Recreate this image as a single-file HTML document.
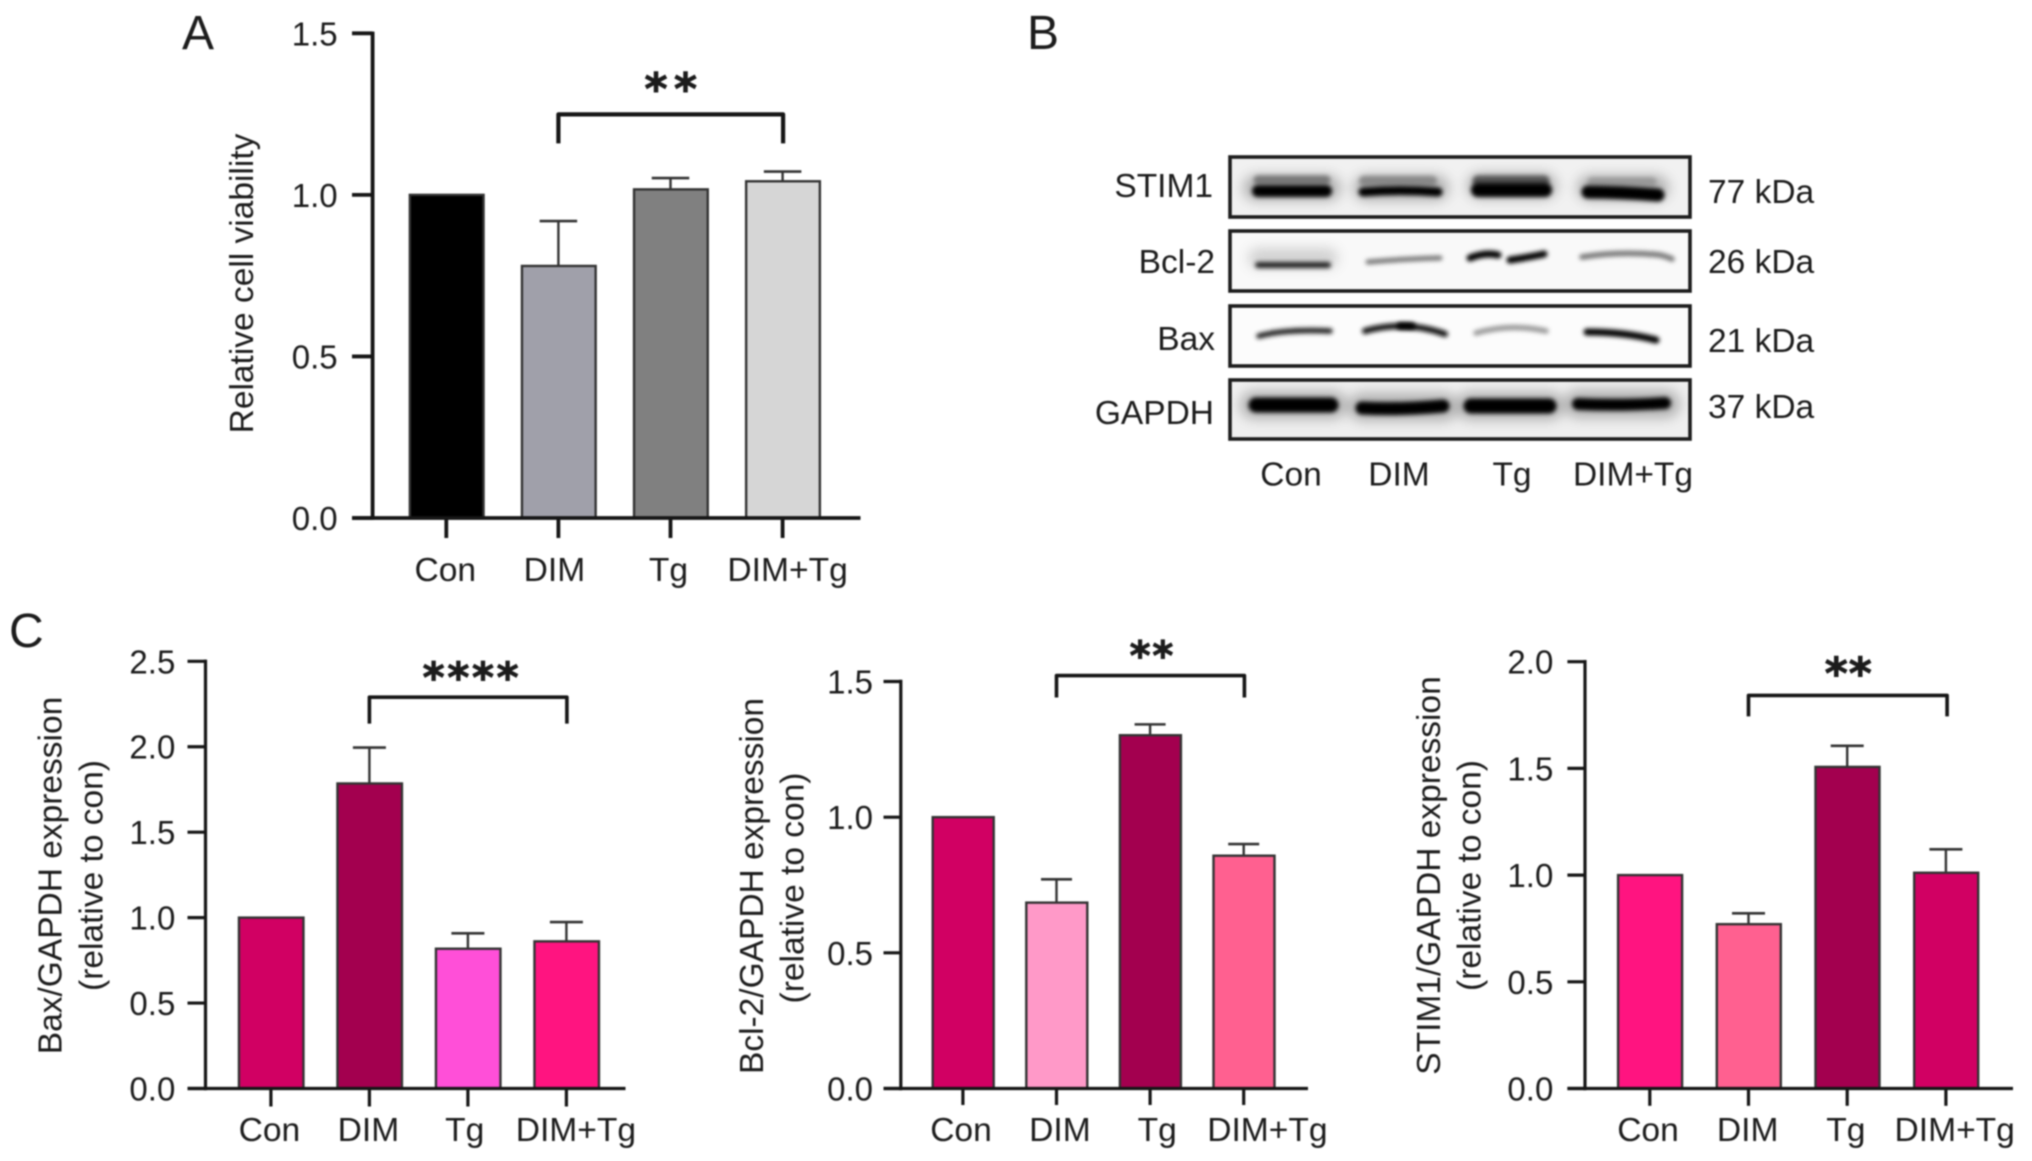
<!DOCTYPE html>
<html lang="en">
<head>
<meta charset="utf-8">
<title>Cell viability and western blot figure</title>
<style>
html,body{margin:0;padding:0;background:#fff;}
body{width:2032px;height:1161px;overflow:hidden;}
#figure{display:block;filter:blur(0.7px);}
text{font-family:"Liberation Sans",sans-serif;fill:#1c1c1c;}
.letter{font-size:48px;}
.title,.blot-label{font-size:33.5px;}
</style>
</head>
<body>
<svg id="figure" xmlns="http://www.w3.org/2000/svg" width="2032" height="1161" viewBox="0 0 2032 1161">
  <defs>
    <filter id="bandBlur" filterUnits="userSpaceOnUse" x="1200" y="140" width="520" height="320"><feGaussianBlur stdDeviation="2.2"/></filter>
    <filter id="hazeBlur" filterUnits="userSpaceOnUse" x="1200" y="140" width="520" height="320"><feGaussianBlur stdDeviation="6"/></filter>
    <clipPath id="blotClip1"><rect x="1230" y="157" width="460" height="60"/></clipPath>
    <clipPath id="blotClip2"><rect x="1230" y="231" width="460" height="60"/></clipPath>
    <clipPath id="blotClip3"><rect x="1230" y="306" width="460" height="60"/></clipPath>
    <clipPath id="blotClip4"><rect x="1230" y="380" width="460" height="59"/></clipPath>
  </defs>
  <rect width="2032" height="1161" fill="#fff"/>

  <text class="letter" x="182" y="49">A</text>
  <text class="letter" x="1027" y="49">B</text>
  <text class="letter" x="9" y="647">C</text>

  <g id="panelA">
    <text class="title" transform="translate(253,283.5) rotate(-90)" text-anchor="middle">Relative cell viability</text>
  </g>

  <g id="panelBax">
    <text class="title" transform="translate(61.5,875.5) rotate(-90)" text-anchor="middle">Bax/GAPDH expression</text>
    <text class="title" transform="translate(102.6,875.5) rotate(-90)" text-anchor="middle">(relative to con)</text>
  </g>

  <g id="panelBcl">
    <text class="title" transform="translate(763,886) rotate(-90)" text-anchor="middle">Bcl-2/GAPDH expression</text>
    <text class="title" transform="translate(803.7,888) rotate(-90)" text-anchor="middle">(relative to con)</text>
  </g>

  <g id="panelStim">
    <text class="title" transform="translate(1440,875.5) rotate(-90)" text-anchor="middle">STIM1/GAPDH expression</text>
    <text class="title" transform="translate(1480.7,875.5) rotate(-90)" text-anchor="middle">(relative to con)</text>
  </g>

  <g id="westernBlot" fill="none" stroke-linecap="round">
    <g clip-path="url(#blotClip1)">
      <rect x="1230" y="157" width="460" height="60" fill="#f1f1f1" stroke="none"/>
      <path d="M1256 188H1328M1366 188H1436M1480 186H1544M1590 188H1656" stroke="#555" stroke-width="26" opacity=".4" filter="url(#hazeBlur)"/>
      <path d="M1258 180H1326" stroke="#777" stroke-width="9" filter="url(#bandBlur)"/>
      <path d="M1364 181H1432" stroke="#888" stroke-width="10" filter="url(#bandBlur)"/>
      <path d="M1478 181H1544" stroke="#555" stroke-width="11" filter="url(#bandBlur)"/>
      <path d="M1592 182H1652" stroke="#999" stroke-width="9" filter="url(#bandBlur)"/>
      <path d="M1258 191H1326" stroke="#000" stroke-width="12" filter="url(#bandBlur)"/>
      <path d="M1363 192Q1400 189 1438 192" stroke="#000" stroke-width="9" filter="url(#bandBlur)"/>
      <path d="M1478 190H1545" stroke="#000" stroke-width="14" filter="url(#bandBlur)"/>
      <path d="M1588 192Q1620 192 1658 195" stroke="#000" stroke-width="13" filter="url(#bandBlur)"/>
    </g>
    <g clip-path="url(#blotClip2)">
      <rect x="1230" y="231" width="460" height="60" fill="#f9f9f9" stroke="none"/>
      <path d="M1258 258H1328" stroke="#777" stroke-width="20" opacity=".3" filter="url(#hazeBlur)"/>
      <path d="M1258 265H1328" stroke="#222" stroke-width="6" filter="url(#bandBlur)"/>
      <path d="M1368 262Q1400 259 1440 258" stroke="#777" stroke-width="5" filter="url(#bandBlur)"/>
      <path d="M1470 258Q1485 252 1498 255" stroke="#000" stroke-width="7" filter="url(#bandBlur)"/>
      <path d="M1510 260Q1530 257 1544 254" stroke="#000" stroke-width="7" filter="url(#bandBlur)"/>
      <path d="M1582 257Q1620 251 1660 255Q1668 257 1672 259" stroke="#777" stroke-width="5.5" filter="url(#bandBlur)"/>
    </g>
    <g clip-path="url(#blotClip3)">
      <rect x="1230" y="306" width="460" height="60" fill="#fcfcfc" stroke="none"/>
      <path d="M1259 336Q1285 329 1330 331" stroke="#222" stroke-width="5.5" filter="url(#bandBlur)"/>
      <path d="M1365 331Q1405 320 1445 334" stroke="#111" stroke-width="6" filter="url(#bandBlur)"/>
      <path d="M1400 326H1412" stroke="#000" stroke-width="7" filter="url(#bandBlur)"/>
      <path d="M1476 333Q1510 323 1546 331" stroke="#999" stroke-width="5.5" filter="url(#bandBlur)"/>
      <path d="M1587 332Q1625 332 1656 340" stroke="#000" stroke-width="7" filter="url(#bandBlur)"/>
    </g>
    <g clip-path="url(#blotClip4)">
      <rect x="1230" y="380" width="460" height="59" fill="#efefef" stroke="none"/>
      <path d="M1254 405H1333M1362 407H1444M1470 406H1550M1578 404H1666" stroke="#555" stroke-width="28" opacity=".4" filter="url(#hazeBlur)"/>
      <path d="M1256 405H1331" stroke="#000" stroke-width="15" filter="url(#bandBlur)"/>
      <path d="M1362 408Q1400 410 1443 406" stroke="#000" stroke-width="13" filter="url(#bandBlur)"/>
      <path d="M1471 406H1549" stroke="#000" stroke-width="15" filter="url(#bandBlur)"/>
      <path d="M1578 404Q1620 406 1665 403" stroke="#000" stroke-width="12" filter="url(#bandBlur)"/>
    </g>
    <g stroke="#1d1d1d" stroke-width="3.6">
      <rect x="1230" y="157" width="460" height="60"/>
      <rect x="1230" y="231" width="460" height="60"/>
      <rect x="1230" y="306" width="460" height="60"/>
      <rect x="1230" y="380" width="460" height="59"/>
    </g>
    <g text-anchor="end" stroke="none">
      <text class="blot-label" x="1213" y="197">STIM1</text>
      <text class="blot-label" x="1215" y="273">Bcl-2</text>
      <text class="blot-label" x="1215" y="350">Bax</text>
      <text class="blot-label" x="1214" y="424">GAPDH</text>
    </g>
    <g stroke="none">
      <text class="blot-label" x="1708" y="203">77 kDa</text>
      <text class="blot-label" x="1708" y="273">26 kDa</text>
      <text class="blot-label" x="1708" y="352">21 kDa</text>
      <text class="blot-label" x="1708" y="418">37 kDa</text>
    </g>
    <g text-anchor="middle" stroke="none">
      <text class="blot-label" x="1291" y="485.5">Con</text>
      <text class="blot-label" x="1399" y="485.5">DIM</text>
      <text class="blot-label" x="1512" y="485.5">Tg</text>
      <text class="blot-label" x="1633" y="485.5">DIM+Tg</text>
    </g>
  </g>
</svg>

<script>
// ---- chart data ----
const categories = ['Con', 'DIM', 'Tg', 'DIM+Tg'];

const viabilityTicks = ['0.0', '0.5', '1.0', '1.5'];
const viabilityMeans = [1.0, 0.78, 1.017, 1.042];
const viabilityErrors = [0, 0.139, 0.035, 0.03];
const viabilityColors = ['#000000', '#a0a0aa', '#808080', '#d6d6d6'];
const viabilityBracket = 1.249;
const viabilityStars = '**';

const baxTicks = ['0.0', '0.5', '1.0', '1.5', '2.0', '2.5'];
const baxMeans = [1.0, 1.785, 0.818, 0.861];
const baxErrors = [0, 0.21, 0.09, 0.113];
const baxColors = ['#d10063', '#a3004f', '#ff4fd8', '#ff1480'];
const baxBracket = 2.29;
const baxStars = '****';

const bclTicks = ['0.0', '0.5', '1.0', '1.5'];
const bclMeans = [1.0, 0.685, 1.302, 0.858];
const bclErrors = [0, 0.086, 0.04, 0.043];
const bclColors = ['#d10063', '#ff99c8', '#a3004f', '#ff6090'];
const bclBracket = 1.522;
const bclStars = '**';

const stimTicks = ['0.0', '0.5', '1.0', '1.5', '2.0'];
const stimMeans = [1.0, 0.77, 1.507, 1.011];
const stimErrors = [0, 0.051, 0.099, 0.11];
const stimColors = ['#ff1480', '#ff6090', '#a3004f', '#d10063'];
const stimBracket = 1.842;
const stimStars = '**';

const SVG_NS = 'http://www.w3.org/2000/svg';

function addEl(parent, tag, name, attrs) {
  const el = document.createElementNS(SVG_NS, tag);
  
  
  for (const key in attrs) el.setAttribute(key, attrs[key]);
  parent.appendChild(el);
  return el;
}

function drawBarChart(groupId, prefix, d, layout) {
  const group = document.getElementById(groupId);
  const tickValues = d.ticks.map(Number);
  const maxTick = tickValues[tickValues.length - 1];
  const yScale = v => layout.baseY - (v / maxTick) * (layout.baseY - layout.topY);
  const xScale = i => layout.firstX + i * layout.stepX;
  const ink = '#161616';

  d.means.forEach((mean, i) => {
    const cat = d.categories[i].toLowerCase().replace('+', '-');
    const top = yScale(mean);
    addEl(group, 'rect', prefix + '-bar-' + cat, {
      x: xScale(i) + layout.barShift - layout.barW / 2, y: top,
      width: layout.barW, height: layout.baseY - top,
      fill: d.colors[i], stroke: '#333', 'stroke-width': 2.4
    });
    if (d.errors[i] > 0) {
      const errTop = yScale(mean + d.errors[i]);
      addEl(group, 'line', prefix + '-error-stem-' + cat, {
        x1: xScale(i), x2: xScale(i), y1: top, y2: errTop, stroke: '#333', 'stroke-width': 2.4
      });
      addEl(group, 'line', prefix + '-error-cap-' + cat, {
        x1: xScale(i) - layout.capW / 2, x2: xScale(i) + layout.capW / 2,
        y1: errTop, y2: errTop, stroke: '#333', 'stroke-width': 2.6
      });
    }
  });

  addEl(group, 'line', prefix + '-y-axis-line', {
    x1: layout.axisX, x2: layout.axisX, y1: layout.topY - 1.7, y2: layout.baseY + 1.7,
    stroke: ink, 'stroke-width': layout.axisW
  });
  addEl(group, 'line', prefix + '-x-axis-line', {
    x1: layout.tickLeft, x2: layout.axisRight, y1: layout.baseY, y2: layout.baseY,
    stroke: ink, 'stroke-width': layout.axisW
  });

  d.ticks.forEach((label, i) => {
    const y = yScale(tickValues[i]);
    addEl(group, 'line', prefix + '-y-tick-' + label, {
      x1: layout.tickLeft, x2: layout.axisX, y1: y, y2: y, stroke: ink, 'stroke-width': layout.axisW
    });
    const t = addEl(group, 'text', prefix + '-y-tick-label-' + label, {
      x: layout.tickLabelX, y: y + 12, 'text-anchor': 'end', 'font-size': 33
    });
    t.textContent = label;
  });

  d.categories.forEach((label, i) => {
    const cat = label.toLowerCase().replace('+', '-');
    addEl(group, 'line', prefix + '-x-tick-' + cat, {
      x1: xScale(i), x2: xScale(i), y1: layout.baseY, y2: layout.tickBottom,
      stroke: ink, 'stroke-width': layout.axisW
    });
    const t = addEl(group, 'text', prefix + '-x-tick-label-' + cat, {
      x: xScale(i) + layout.labelOffsets[i], y: layout.labelY, 'text-anchor': 'middle', 'font-size': 33.6
    });
    t.textContent = label;
  });

  const bracketY = yScale(d.bracket);
  const x1 = xScale(1);
  const x2 = xScale(3) + layout.bracketExtra;
  addEl(group, 'path', prefix + '-significance-bracket', {
    d: 'M' + x1 + ' ' + (bracketY + layout.bracketDrop) + 'V' + bracketY + 'H' + x2 + 'V' + (bracketY + layout.bracketDrop),
    fill: 'none', stroke: ink, 'stroke-width': layout.axisW + 0.4, 'stroke-linejoin': 'round'
  });
  const stars = addEl(group, 'text', prefix + '-significance-stars', {
    x: (x1 + x2) / 2 + layout.starOffset + layout.starSpacing / 2, y: bracketY + layout.starLift,
    'text-anchor': 'middle', 'font-size': layout.starSize, 'font-weight': 'bold',
    stroke: '#1c1c1c', 'stroke-width': 0.9,
    style: 'font-family:"DejaVu Sans",sans-serif;letter-spacing:' + layout.starSpacing + 'px'
  });
  stars.textContent = d.stars;
}

drawBarChart('panelA', 'viability',
  { categories: categories, ticks: viabilityTicks, means: viabilityMeans, errors: viabilityErrors,
    colors: viabilityColors, bracket: viabilityBracket, stars: viabilityStars },
  { axisX: 372.6, topY: 33.3, baseY: 518, tickLeft: 352, axisRight: 860.5, firstX: 446.3, stepX: 112.1,
    barW: 73.7, barShift: 0.4, capW: 37.5, axisW: 3.8, tickBottom: 538, tickLabelX: 337.6, labelY: 581,
    labelOffsets: [-1, -4, -2, 5], bracketDrop: 29, bracketExtra: 0.5, starOffset: 0, starLift: -10.6,
    starSize: 44, starSpacing: 6.5 });

drawBarChart('panelBax', 'bax',
  { categories: categories, ticks: baxTicks, means: baxMeans, errors: baxErrors,
    colors: baxColors, bracket: baxBracket, stars: baxStars },
  { axisX: 205.5, topY: 661.3, baseY: 1088.5, tickLeft: 187.5, axisRight: 625.5, firstX: 270.9, stepX: 98.5,
    barW: 64.5, barShift: 0.3, capW: 33, axisW: 3.2, tickBottom: 1106.5, tickLabelX: 175.3, labelY: 1141,
    labelOffsets: [-1.5, -1, -3.2, 9.5], bracketDrop: 26.5, bracketExtra: 0.5, starOffset: 2.5, starLift: -5,
    starSize: 42, starSpacing: 2.7 });

drawBarChart('panelBcl', 'bcl2',
  { categories: categories, ticks: bclTicks, means: bclMeans, errors: bclErrors,
    colors: bclColors, bracket: bclBracket, stars: bclStars },
  { axisX: 900.8, topY: 681.5, baseY: 1088.5, tickLeft: 883.5, axisRight: 1308, firstX: 962.9, stepX: 93.6,
    barW: 61, barShift: 0.3, capW: 31, axisW: 3.2, tickBottom: 1105, tickLabelX: 873, labelY: 1141,
    labelOffsets: [-1.9, 3.4, 7.1, 23.7], bracketDrop: 22, bracketExtra: 0.7, starOffset: 1, starLift: -6,
    starSize: 40, starSpacing: 1.8 });

drawBarChart('panelStim', 'stim1',
  { categories: categories, ticks: stimTicks, means: stimMeans, errors: stimErrors,
    colors: stimColors, bracket: stimBracket, stars: stimStars },
  { axisX: 1585, topY: 661.7, baseY: 1088.5, tickLeft: 1567.4, axisRight: 2013, firstX: 1649.8, stepX: 98.7,
    barW: 64, barShift: 0.3, capW: 33, axisW: 3.2, tickBottom: 1105.8, tickLabelX: 1553.3, labelY: 1141,
    labelOffsets: [-1.8, -0.8, -1.3, 8.8], bracketDrop: 21, bracketExtra: 1.2, starOffset: 0.5, starLift: -6.8,
    starSize: 44, starSpacing: 1 });
</script>
</body>
</html>
